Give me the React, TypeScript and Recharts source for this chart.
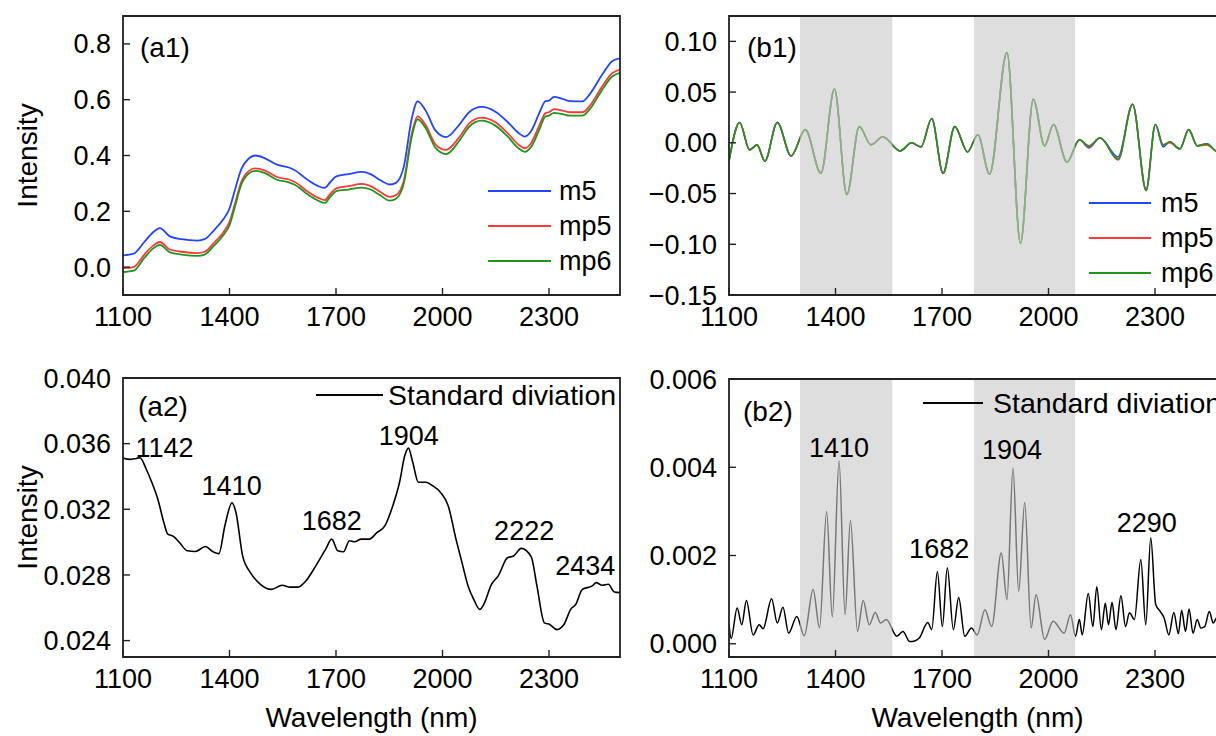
import {
  Legend,
  Line,
  LineChart,
  ReferenceArea,
  ReferenceDot,
  XAxis,
  YAxis,
} from "recharts";

const FONT = '"Liberation Sans", Arial, Helvetica, sans-serif';
const AXIS = "#222";

// shared x axis
const X_DOMAIN = [1100, 2500];
const X_TICKS = [1100, 1400, 1700, 2000, 2300];
const X_MINOR = [1250, 1550, 1850, 2150, 2450];
const BANDS = [
  [1300, 1560],
  [1790, 2075],
];

// (a1) raw spectra
const A1_WL = [
  1100, 1130, 1160, 1185, 1204, 1232, 1265, 1310, 1330, 1355, 1383, 1400, 1416, 1433, 1455, 1472,
  1500, 1534, 1567, 1584, 1623, 1650, 1668, 1684, 1701, 1735, 1774, 1796, 1824, 1852, 1869, 1891,
  1913, 1930, 1953, 1980, 2010, 2047, 2075, 2110, 2148, 2182, 2215, 2232, 2249, 2272, 2290, 2300,
  2314, 2338, 2360, 2394, 2416, 2450, 2478, 2500,
];
const A1_M5 = [
  0.042, 0.048, 0.09, 0.125, 0.14, 0.11, 0.1, 0.095, 0.1, 0.13, 0.172, 0.21, 0.28, 0.35, 0.39, 0.4,
  0.39, 0.367, 0.357, 0.347, 0.31, 0.29, 0.284, 0.305, 0.325, 0.333, 0.341, 0.334, 0.312, 0.296, 0.302, 0.36,
  0.53, 0.594, 0.56, 0.49, 0.466, 0.51, 0.555, 0.574, 0.558, 0.522, 0.48, 0.468, 0.486, 0.55, 0.595, 0.597,
  0.61, 0.603, 0.595, 0.594, 0.622, 0.69, 0.738, 0.748,
];
const A1_MP5 = [
  -0.004, 0.0, 0.045, 0.077, 0.09, 0.063, 0.055, 0.05, 0.055, 0.085, 0.125, 0.162, 0.23, 0.305, 0.345, 0.354,
  0.346, 0.323, 0.314, 0.305, 0.268, 0.248, 0.24, 0.262, 0.282, 0.29, 0.298, 0.291, 0.27, 0.252, 0.258, 0.31,
  0.475, 0.54, 0.508, 0.44, 0.42, 0.465, 0.515, 0.536, 0.52, 0.482, 0.438, 0.426, 0.443, 0.505, 0.552, 0.555,
  0.566, 0.561, 0.555, 0.555, 0.58, 0.648, 0.695, 0.708,
];
const A1_MP6 = [
  -0.018, -0.013, 0.033, 0.067, 0.08, 0.053, 0.045, 0.04, 0.045, 0.075, 0.115, 0.15, 0.22, 0.295, 0.336, 0.345,
  0.337, 0.313, 0.304, 0.295, 0.258, 0.238, 0.23, 0.252, 0.272, 0.278, 0.285, 0.279, 0.258, 0.238, 0.245, 0.3,
  0.465, 0.53, 0.497, 0.428, 0.405, 0.452, 0.503, 0.525, 0.508, 0.47, 0.425, 0.413, 0.43, 0.49, 0.54, 0.543,
  0.553, 0.548, 0.543, 0.543, 0.568, 0.636, 0.683, 0.696,
];

// (b1) second derivative
const B1_WL = [
  1100, 1130, 1158, 1179, 1201, 1236, 1275, 1315, 1359, 1397, 1432, 1467, 1500, 1533, 1582, 1614,
  1641, 1671, 1703, 1736, 1772, 1801, 1834, 1883, 1921, 1957, 1989, 2014, 2052, 2087, 2114, 2145,
  2196, 2237, 2275, 2301, 2323, 2342, 2370, 2395, 2419, 2446, 2471, 2500,
];
const B1_M5 = [
  -0.017, 0.02, -0.007, -0.002, -0.018, 0.02, -0.013, 0.013, -0.03, 0.053, -0.051, 0.016, -0.002, 0.006, -0.008, 0.0,
  -0.004, 0.024, -0.03, 0.016, -0.009, 0.008, -0.031, 0.089, -0.099, 0.043, -0.003, 0.018, -0.019, 0.003, -0.005, 0.005,
  -0.014, 0.038, -0.046, 0.018, -0.004, 0.001, -0.006, 0.013, -0.003, -0.001, -0.008, -0.012,
];
const B1_MP5 = [
  -0.018, 0.02, -0.007, -0.002, -0.018, 0.02, -0.013, 0.013, -0.03, 0.053, -0.051, 0.016, -0.002, 0.006, -0.008, 0.0,
  -0.004, 0.024, -0.03, 0.016, -0.009, 0.008, -0.031, 0.089, -0.099, 0.043, -0.003, 0.018, -0.019, 0.003, -0.004, 0.005,
  -0.017, 0.038, -0.047, 0.018, -0.002, 0.0, -0.006, 0.013, -0.003, -0.002, -0.008, -0.012,
];
const B1_MP6 = [
  -0.018, 0.02, -0.007, -0.002, -0.018, 0.02, -0.013, 0.013, -0.03, 0.053, -0.051, 0.016, -0.002, 0.006, -0.008, 0.0,
  -0.004, 0.024, -0.03, 0.016, -0.009, 0.008, -0.031, 0.089, -0.099, 0.043, -0.003, 0.018, -0.019, 0.003, -0.003, 0.005,
  -0.016, 0.038, -0.047, 0.018, -0.002, 0.001, -0.006, 0.013, -0.003, -0.001, -0.008, -0.012,
];

// (a2) standard deviation of raw spectra
const A2_WL = [
  1100, 1120, 1137, 1148, 1165, 1181, 1198, 1215, 1226, 1242, 1259, 1281, 1304, 1332, 1354, 1370,
  1387, 1407, 1418, 1437, 1459, 1487, 1518, 1548, 1571, 1593, 1615, 1643, 1671, 1688, 1705, 1721,
  1738, 1752, 1771, 1793, 1816, 1838, 1860, 1879, 1894, 1904, 1916, 1932, 1953, 1971, 1994, 2016,
  2038, 2055, 2072, 2088, 2105, 2116, 2138, 2157, 2183, 2200, 2222, 2250, 2266, 2287, 2302, 2322,
  2342, 2361, 2375, 2394, 2422, 2433, 2450, 2467, 2484, 2500,
];
const A2_SD = [
  0.03512, 0.03504, 0.0351, 0.03514, 0.03447, 0.03365, 0.03263, 0.0312, 0.03049, 0.03035, 0.02998, 0.02947, 0.02943, 0.02973, 0.02941, 0.0293,
  0.031, 0.03239, 0.03182, 0.02916, 0.02814, 0.02743, 0.02712, 0.02737, 0.02726, 0.02726, 0.02763, 0.02855, 0.02957, 0.03018, 0.02947, 0.02941,
  0.03008, 0.03002, 0.03018, 0.03018, 0.03059, 0.031, 0.03222, 0.03365, 0.03529, 0.03573, 0.03488, 0.03365, 0.03365, 0.03345, 0.03304, 0.03222,
  0.03018, 0.02875, 0.02733, 0.02651, 0.0259, 0.0262, 0.02743, 0.02794, 0.02905, 0.02915, 0.02962, 0.0291, 0.02733, 0.02508, 0.02498, 0.02467,
  0.02498, 0.0259, 0.0262, 0.02712, 0.02733, 0.02753, 0.02737, 0.02743, 0.02696, 0.02692,
];

// (b2) standard deviation of second derivative
const B2_WL = [
  1100, 1106, 1123, 1136, 1149, 1168, 1185, 1196, 1220, 1236, 1252, 1268, 1291, 1312, 1337, 1355,
  1375, 1391, 1410, 1427, 1442, 1462, 1478, 1495, 1512, 1527, 1543, 1573, 1590, 1609, 1625, 1636,
  1660, 1671, 1687, 1701, 1715, 1732, 1747, 1764, 1783, 1799, 1821, 1840, 1867, 1883, 1900, 1916,
  1933, 1951, 1965, 1989, 2013, 2044, 2062, 2076, 2087, 2095, 2112, 2125, 2136, 2149, 2160, 2169,
  2179, 2190, 2204, 2217, 2228, 2242, 2260, 2274, 2288, 2302, 2315, 2326, 2339, 2353, 2366, 2375,
  2386, 2396, 2407, 2419, 2429, 2440, 2453, 2464, 2475, 2490, 2500,
];
const B2_SD = [
  0.00045, 0.00012, 0.00081, 0.00043, 0.00098, 0.0002, 0.00043, 0.00034, 0.00102, 0.00047, 0.00083, 0.00024, 0.00062, 0.00018, 0.00123, 0.00036,
  0.003, 0.00061, 0.00414, 0.00066, 0.0028, 0.00028, 0.00098, 0.00043, 0.00071, 0.00047, 0.00055, 0.00017, 0.00028, 0.00005, 0.00007, 0.00013,
  0.00048, 0.00032, 0.00164, 0.00039, 0.00172, 0.00032, 0.00105, 0.00017, 0.00036, 0.0002, 0.00077, 0.00039, 0.00206, 0.001, 0.00398, 0.00119,
  0.0032, 0.00036, 0.00111, 0.0001, 0.00051, 0.00024, 0.00066, 0.00017, 0.00055, 0.0002, 0.00114, 0.00039, 0.00129, 0.00032, 0.00092, 0.00043,
  0.00094, 0.00032, 0.00109, 0.00039, 0.0007, 0.00055, 0.00191, 0.00043, 0.0024, 0.00089, 0.00073, 0.00058, 0.0002, 0.00071, 0.00023, 0.00076,
  0.00028, 0.00079, 0.00024, 0.00055, 0.00036, 0.00039, 0.00073, 0.00047, 0.0006, 0.0003, 0.0005,
];

// peak annotations (label centre in data units)
const A2_PEAKS = [
  { x: 1217, y: 0.0358, text: "1142" },
  { x: 1406, y: 0.03345, text: "1410" },
  { x: 1688, y: 0.0313, text: "1682" },
  { x: 1905, y: 0.0365, text: "1904" },
  { x: 2230, y: 0.0307, text: "2222" },
  { x: 2402, y: 0.02855, text: "2434" },
];
const B2_PEAKS = [
  { x: 1410, y: 0.00445, text: "1410" },
  { x: 1897, y: 0.00441, text: "1904" },
  { x: 1692, y: 0.00217, text: "1682" },
  { x: 2277, y: 0.00274, text: "2290" },
];

const SPECTRA = [
  { key: "m5", name: "m5", color: "#2244ff" },
  { key: "mp5", name: "mp5", color: "#ff3838" },
  { key: "mp6", name: "mp6", color: "#1e961e" },
];
const SD = [{ key: "sd", name: "Standard diviation", color: "#000" }];

const a1Data = A1_WL.map((wl, i) => ({ wl, m5: A1_M5[i], mp5: A1_MP5[i], mp6: A1_MP6[i] }));
const b1Data = B1_WL.map((wl, i) => ({ wl, m5: B1_M5[i], mp5: B1_MP5[i], mp6: B1_MP6[i] }));
const a2Data = A2_WL.map((wl, i) => ({ wl, sd: A2_SD[i] }));
const b2Data = B2_WL.map((wl, i) => ({ wl, sd: B2_SD[i] }));

const fmt1 = (v: number) => v.toFixed(1);
const fmt2 = (v: number) => (v < 0 ? "\u2212" : "") + Math.abs(v).toFixed(2);
const fmt3 = (v: number) => v.toFixed(3);

const makeLegend = (lineW: number, gap: number, rowH: number, fontSize: number) => (props: any) => (
  <div style={{ fontFamily: FONT, whiteSpace: "nowrap" }}>
    {(props.payload || []).map((p: any) => (
      <div key={p.value} style={{ display: "flex", alignItems: "center", height: rowH }}>
        <div style={{ width: lineW, height: 2, background: p.color, marginRight: gap }} />
        <span style={{ fontSize, lineHeight: 1, color: "#000" }}>{p.value}</span>
      </div>
    ))}
  </div>
);

const YTitle = (props: any) => {
  const vb = props.viewBox || { x: 0, y: 0, height: 0 };
  const cx = vb.x - 95;
  const cy = vb.y + vb.height / 2;
  return (
    <text
      x={cx}
      y={cy}
      transform={`rotate(-90 ${cx} ${cy})`}
      textAnchor="middle"
      dominantBaseline="central"
      fontSize={28}
      fill="#000"
      fontFamily={FONT}
    >
      Intensity
    </text>
  );
};

interface PanelProps {
  left: number;
  top: number;
  width: number;
  height: number;
  // plot frame inside the chart box
  plot: { top: number; right: number; bottom: number; left: number };
  data: any[];
  series: { key: string; name: string; color: string }[];
  yDomain: number[];
  yTicks: number[];
  yMinor: number[];
  yFmt: (v: number) => string;
  bands?: number[][];
  peaks?: { x: number; y: number; text: string }[];
  xTitle?: boolean;
  yTitle?: boolean;
  legend: { left: number; top: number; lineW: number; gap: number; fontSize: number };
  strokeWidth: number;
}

function Panel(p: PanelProps) {
  const tickStyle = { fontSize: 27, fill: "#000", fontFamily: FONT };
  const tickLine = { stroke: AXIS, strokeWidth: 1.4 };
  // two 1px axes on the left and two on the bottom eat into the margins
  const margin = {
    top: p.plot.top,
    right: p.plot.right,
    bottom: p.plot.bottom - 2,
    left: p.plot.left - 2,
  };
  return (
    <div style={{ position: "absolute", left: p.left, top: p.top, width: p.width, height: p.height }}>
      <LineChart width={p.width} height={p.height} data={p.data} margin={margin}>
        <XAxis
          dataKey="wl"
          type="number"
          domain={X_DOMAIN}
          ticks={X_TICKS}
          allowDataOverflow
          axisLine={false}
          height={1}
          tickSize={-7}
          tickMargin={19}
          tick={tickStyle}
          tickLine={tickLine}
          label={
            p.xTitle
              ? { value: "Wavelength (nm)", position: "bottom", offset: 49, fontSize: 28, fill: "#000", fontFamily: FONT }
              : undefined
          }
        />
        <XAxis
          xAxisId="minor"
          dataKey="wl"
          type="number"
          domain={X_DOMAIN}
          ticks={X_MINOR}
          allowDataOverflow
          axisLine={false}
          height={1}
          tick={false}
          tickSize={-5}
          tickLine={tickLine}
        />
        <YAxis
          type="number"
          domain={p.yDomain}
          ticks={p.yTicks}
          allowDataOverflow
          axisLine={false}
          width={1}
          tickSize={-7}
          tickMargin={19}
          tickFormatter={p.yFmt}
          tick={tickStyle}
          tickLine={tickLine}
          label={p.yTitle ? <YTitle /> : undefined}
        />
        <YAxis
          yAxisId="minor"
          type="number"
          domain={p.yDomain}
          ticks={p.yMinor}
          allowDataOverflow
          axisLine={false}
          width={1}
          tick={false}
          tickSize={-5}
          tickLine={tickLine}
        />
        {p.series.map((s) => (
          <Line
            key={s.key}
            dataKey={s.key}
            name={s.name}
            type="monotone"
            stroke={s.color}
            strokeWidth={p.strokeWidth}
            dot={false}
            activeDot={false}
            isAnimationActive={false}
          />
        ))}
        {(p.bands || []).map((b) => (
          <ReferenceArea
            key={b[0]}
            x1={b[0]}
            x2={b[1]}
            y1={p.yDomain[0]}
            y2={p.yDomain[1]}
            fill="#c8c8c8"
            fillOpacity={0.6}
            stroke="none"
            zIndex={450}
          />
        ))}
        <ReferenceArea
          x1={X_DOMAIN[0]}
          x2={X_DOMAIN[1]}
          y1={p.yDomain[0]}
          y2={p.yDomain[1]}
          fill="none"
          fillOpacity={0}
          stroke={AXIS}
          strokeWidth={1.8}
          zIndex={460}
        />
        {(p.peaks || []).map((pk) => (
          <ReferenceDot
            key={pk.text}
            x={pk.x}
            y={pk.y}
            r={0}
            fill="none"
            stroke="none"
            label={{ value: pk.text, position: "center", fontSize: 27, fill: "#000", fontFamily: FONT }}
          />
        ))}
        <Legend
          layout="horizontal"
          verticalAlign="middle"
          align="center"
          content={makeLegend(p.legend.lineW, p.legend.gap, 35, p.legend.fontSize)}
          wrapperStyle={{ left: p.legend.left, top: p.legend.top, width: "auto", height: "auto", margin: 0 }}
        />
      </LineChart>
    </div>
  );
}

const tagStyle = (left: number, top: number) => ({
  position: "absolute" as const,
  left,
  top,
  fontSize: 28,
  lineHeight: 1,
  fontFamily: FONT,
  color: "#000",
});

export default function App() {
  return (
    <div
      style={{
        position: "fixed",
        left: 0,
        top: 0,
        width: 1216,
        height: 736,
        overflow: "hidden",
        background: "#fff",
        fontFamily: FONT,
      }}
    >
      <Panel
        left={0}
        top={0}
        width={640}
        height={350}
        plot={{ top: 16, right: 20, bottom: 55, left: 123 }}
        data={a1Data}
        series={SPECTRA}
        yDomain={[-0.1, 0.9]}
        yTicks={[0, 0.2, 0.4, 0.6, 0.8]}
        yMinor={[0.1, 0.3, 0.5, 0.7]}
        yFmt={fmt1}
        yTitle
        legend={{ left: 488, top: 173.5, lineW: 63, gap: 8, fontSize: 27 }}
        strokeWidth={1.8}
      />
      <Panel
        left={610}
        top={0}
        width={640}
        height={350}
        plot={{ top: 16, right: 24, bottom: 55, left: 119 }}
        data={b1Data}
        series={SPECTRA}
        yDomain={[-0.15, 0.125]}
        yTicks={[-0.15, -0.1, -0.05, 0, 0.05, 0.1]}
        yMinor={[-0.125, -0.075, -0.025, 0.025, 0.075]}
        yFmt={fmt2}
        bands={BANDS}
        legend={{ left: 479, top: 185.5, lineW: 62, gap: 10, fontSize: 27 }}
        strokeWidth={1.6}
      />
      <Panel
        left={0}
        top={360}
        width={640}
        height={376}
        plot={{ top: 18, right: 20, bottom: 79, left: 123 }}
        data={a2Data}
        series={SD}
        yDomain={[0.023, 0.04]}
        yTicks={[0.024, 0.028, 0.032, 0.036, 0.04]}
        yMinor={[0.026, 0.03, 0.034, 0.038]}
        yFmt={fmt3}
        peaks={A2_PEAKS}
        xTitle
        yTitle
        legend={{ left: 316, top: 17.5, lineW: 67, gap: 5, fontSize: 28.5 }}
        strokeWidth={1.6}
      />
      <Panel
        left={610}
        top={360}
        width={640}
        height={376}
        plot={{ top: 19, right: 24, bottom: 79, left: 119 }}
        data={b2Data}
        series={SD}
        yDomain={[-0.0003, 0.006]}
        yTicks={[0, 0.002, 0.004, 0.006]}
        yMinor={[0.001, 0.003, 0.005]}
        yFmt={fmt3}
        bands={BANDS}
        peaks={B2_PEAKS}
        xTitle
        legend={{ left: 313, top: 25.5, lineW: 60, gap: 10, fontSize: 28.5 }}
        strokeWidth={1.5}
      />
      <div style={tagStyle(140, 34)}>(a1)</div>
      <div style={tagStyle(747, 34)}>(b1)</div>
      <div style={tagStyle(138, 393)}>(a2)</div>
      <div style={tagStyle(743, 398)}>(b2)</div>
    </div>
  );
}
